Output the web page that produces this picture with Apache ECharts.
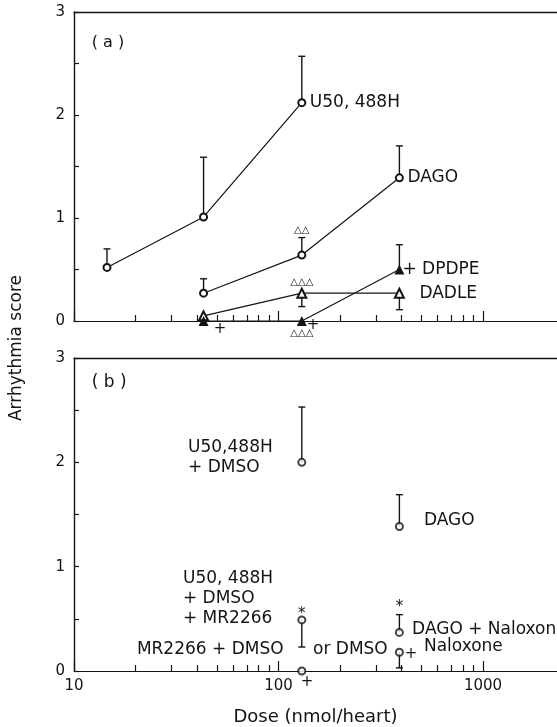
<!DOCTYPE html>
<html>
<head>
<meta charset="utf-8">
<script src="https://cdn.jsdelivr.net/npm/echarts@6/dist/echarts.min.js"></script>
<style>html,body{margin:0;padding:0;background:#fff}#c{width:557px;height:727px}</style>
</head>
<body>
<div id="c"></div>
<script>
// ---------- data ----------
const majorTicks = [10, 100, 1000];
const minorTicks = [20, 30, 40, 50, 60, 70, 80, 90, 200, 300, 400, 500, 600, 700, 800, 900];
const yTicks = [0, 1, 2, 3];

// Panel (a)
const u50Dose = [14.5, 43, 130];
const u50Mean = [0.52, 1.01, 2.12];
const u50Err  = [0.70, 1.59, 2.57];          // upper end of SEM bar

const dagoDose = [43, 130, 390];
const dagoMean = [0.27, 0.64, 1.39];
const dagoErr  = [0.41, 0.81, 1.70];

const dadleDose = [43, 130, 390];
const dadleMean = [0.05, 0.27, 0.27];
const dadleErr  = [null, 0.14, 0.11];         // bars drawn downward

const dpdpeDose = [43, 130, 390];
const dpdpeMean = [0.0, 0.0, 0.50];
const dpdpeErr  = [null, null, 0.74];

// Panel (b) single points
const bDose  = [130, 390, 130, 130, 390, 390];
const bMean  = [2.00, 1.385, 0.49, 0.0, 0.37, 0.18];
const bErr   = [2.53, 1.69, 0.23, null, 0.54, 0.03];

// Text annotations: [text, dose, score]
const textsA = [['( a )', 12.2, 2.70]];
const textsB = [
  ['( b )', 12.2, 2.76],
  ['U50,488H\n+ DMSO', 36.1, 2.05],
  ['DAGO', 514, 1.44],
  ['U50, 488H\n+ DMSO\n+ MR2266', 34.1, 0.69],
  ['MR2266 + DMSO', 20.3, 0.21],
  ['or DMSO', 147.5, 0.21],
  ['DAGO + Naloxone', 450, 0.40],
  ['Naloxone', 514, 0.23]
];
// significance marks: [text, dose, score]
const marksA = [
  ['△△', 130, 0.88],
  ['△△△', 130, 0.37],
  ['△△△', 130, -0.12],
  ['+', 51.8, -0.08],
  ['+', 147.5, -0.04]
];
const marksB = [
  ['*', 130, 0.55],
  ['*', 390, 0.61],
  ['+', 137.8, -0.105],
  ['+', 444.6, 0.16]
];

// ---------- helpers ----------
const INK = '#141414';
const FONT = 'DejaVu Sans';
const zip = (xs, ys) => xs.map((x, i) => [x, ys[i]]);
const errData = (xs, ms, es) => xs.map((x, i) => [x, ms[i], es[i]]).filter(d => d[2] != null);

function errRender(params, api) {
  const x = api.value(0), m = api.value(1), e = api.value(2);
  const p0 = api.coord([x, m]), p1 = api.coord([x, e]);
  const st = { stroke: INK, lineWidth: 1.4 };
  return { type: 'group', children: [
    { type: 'line', shape: { x1: p0[0], y1: p0[1], x2: p1[0], y2: p1[1] }, style: st },
    { type: 'line', shape: { x1: p1[0] - 3.5, y1: p1[1], x2: p1[0] + 3.5, y2: p1[1] }, style: st }
  ]};
}
function textRender(list, align, size, plusSize) {
  return function (params, api) {
    const item = list[params.dataIndex];
    const p = api.coord([item[1], item[2]]);
    const fs = (item[0] === '+' && plusSize) ? plusSize : size;
    return { type: 'text', x: p[0], y: p[1], style: {
      text: item[0], fill: INK, font: fs + 'px "' + FONT + '"',
      align: align, verticalAlign: 'middle', lineHeight: Math.round(fs * 1.15)
    }};
  };
}
function xAxes(grid, withLabels) {
  const base = { type: 'log', gridIndex: grid, min: 10, max: 2300, splitLine: { show: false }, logBase: 10 };
  return [
    Object.assign({}, base, {
      position: 'bottom',
      axisLine: { show: true, lineStyle: { color: INK, width: 1.2 } },
      axisTick: { show: true, inside: true, length: 10, customValues: majorTicks, lineStyle: { color: INK, width: 1.2 } },
      axisLabel: withLabels ? { show: true, customValues: majorTicks, color: INK, fontFamily: FONT, fontSize: 15, margin: 8,
        formatter: v => String(Math.round(v)) } : { show: false },
      name: withLabels ? 'Dose (nmol/heart)' : '',
      nameLocation: 'middle', nameGap: 37,
      nameTextStyle: { color: INK, fontFamily: FONT, fontSize: 18 }
    }),
    Object.assign({}, base, {
      position: 'bottom',
      axisLine: { show: false },
      axisTick: { show: true, inside: true, length: 6, customValues: minorTicks, lineStyle: { color: INK, width: 1.2 } },
      axisLabel: { show: false }
    }),
    Object.assign({}, base, {
      position: 'top',
      axisLine: { show: true, lineStyle: { color: INK, width: 1.4 } },
      axisTick: { show: false }, axisLabel: { show: false }
    })
  ];
}
function yAxis(grid) {
  return {
    type: 'value', gridIndex: grid, min: 0, max: 3, interval: 0.5,
    axisLine: { show: true, lineStyle: { color: INK, width: 1.4 } },
    axisTick: { show: true, inside: true, length: 5, lineStyle: { color: INK, width: 1.2 } },
    axisLabel: { color: INK, fontFamily: FONT, fontSize: 15, margin: 9,
      formatter: v => (yTicks.indexOf(v) >= 0 ? String(v) : '') },
    splitLine: { show: false }
  };
}
const lineStyle = { color: INK, width: 1.2 };
const labelStyle = { color: INK, fontFamily: FONT, fontSize: 17 };

const option = {
  backgroundColor: '#fff',
  animation: false,
  grid: [
    { left: 74, right: 0, top: 12, height: 309 },
    { left: 74, right: 0, top: 358, height: 314 }
  ],
  xAxis: xAxes(0, false).concat(xAxes(1, true)),
  yAxis: [yAxis(0), yAxis(1)],
  graphic: [{
    type: 'text', x: 17, y: 348, rotation: Math.PI / 2,
    style: { text: 'Arrhythmia score', fill: INK, font: '17px "' + FONT + '"', align: 'center', verticalAlign: 'middle' }
  }],
  series: [
    // ----- panel (a) error bars -----
    { type: 'custom', xAxisIndex: 0, yAxisIndex: 0, z: 1, renderItem: errRender, encode: { x: 0, y: [1, 2] },
      data: errData(u50Dose, u50Mean, u50Err)
        .concat(errData(dagoDose, dagoMean, dagoErr))
        .concat(errData(dadleDose, dadleMean, dadleErr))
        .concat(errData(dpdpeDose, dpdpeMean, dpdpeErr)) },
    // ----- panel (a) lines -----
    { type: 'line', name: 'U50,488H', xAxisIndex: 0, yAxisIndex: 0, z: 3, data: zip(u50Dose, u50Mean),
      symbol: 'emptyCircle', symbolSize: 7, lineStyle: lineStyle, itemStyle: { color: INK, borderWidth: 1.3 },
      endLabel: Object.assign({ show: true, formatter: 'U50, 488H', distance: 8 }, labelStyle) },
    { type: 'line', name: 'DAGO', xAxisIndex: 0, yAxisIndex: 0, z: 3, data: zip(dagoDose, dagoMean),
      symbol: 'emptyCircle', symbolSize: 7, lineStyle: lineStyle, itemStyle: { color: INK, borderWidth: 1.3 },
      endLabel: Object.assign({ show: true, formatter: 'DAGO', distance: 8 }, labelStyle) },
    { type: 'line', name: 'DADLE', xAxisIndex: 0, yAxisIndex: 0, z: 3, data: zip(dadleDose, dadleMean),
      symbol: 'emptyTriangle', symbolSize: 9, lineStyle: lineStyle, itemStyle: { color: INK, borderWidth: 1.3 },
      endLabel: Object.assign({ show: true, formatter: 'DADLE', distance: 20 }, labelStyle) },
    { type: 'line', name: 'DPDPE', xAxisIndex: 0, yAxisIndex: 0, z: 4, data: zip(dpdpeDose, dpdpeMean),
      symbol: 'triangle', symbolSize: 10, lineStyle: lineStyle, itemStyle: { color: INK },
      endLabel: Object.assign({ show: true, formatter: '+ DPDPE', distance: 3 }, labelStyle) },
    // ----- panel (a) texts -----
    { type: 'custom', xAxisIndex: 0, yAxisIndex: 0, z: 5, renderItem: textRender(textsA, 'left', 16),
      data: textsA.map(t => [t[1], t[2]]), encode: { x: 0, y: 1 } },
    { type: 'custom', xAxisIndex: 0, yAxisIndex: 0, z: 5, renderItem: textRender(marksA, 'center', 10, 15),
      data: marksA.map(t => [t[1], t[2]]), encode: { x: 0, y: 1 } },
    // ----- panel (b) -----
    { type: 'custom', xAxisIndex: 3, yAxisIndex: 1, z: 1, renderItem: errRender, encode: { x: 0, y: [1, 2] },
      data: errData(bDose, bMean, bErr) },
    { type: 'scatter', xAxisIndex: 3, yAxisIndex: 1, z: 3, data: zip(bDose, bMean),
      symbol: 'emptyCircle', symbolSize: 7, itemStyle: { color: INK, borderWidth: 1.3 } },
    { type: 'custom', xAxisIndex: 3, yAxisIndex: 1, z: 5, renderItem: textRender(textsB, 'left', 17),
      data: textsB.map(t => [t[1], t[2]]), encode: { x: 0, y: 1 } },
    { type: 'custom', xAxisIndex: 3, yAxisIndex: 1, z: 5, renderItem: textRender(marksB, 'center', 15, 15),
      data: marksB.map(t => [t[1], t[2]]), encode: { x: 0, y: 1 } }
  ]
};
const chart = echarts.init(document.getElementById('c'), null, { renderer: 'canvas' });
chart.setOption(option);
</script>
</body>
</html>
